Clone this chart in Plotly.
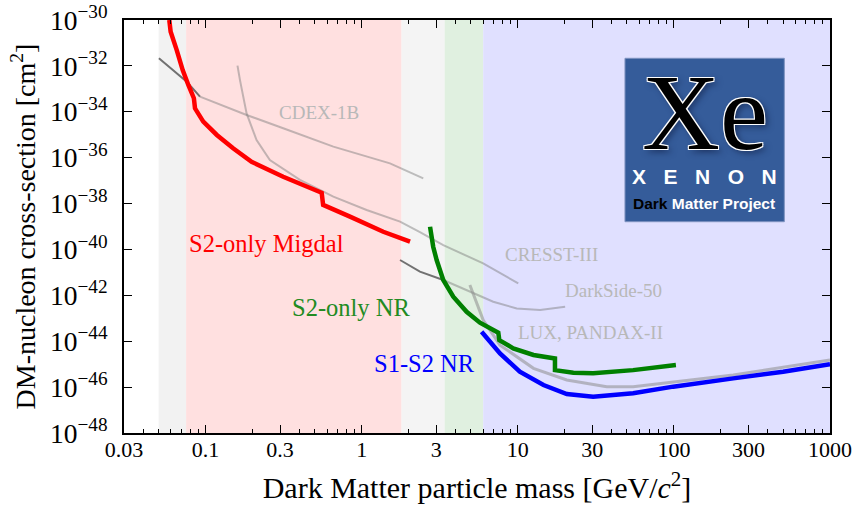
import plotly.graph_objects as go

# ---------------- data ----------------
region_edges = [0.05, 0.075, 1.8, 3.4, 6.0, 1000]
region_colors = ["#f2f2f2", "#ffe0e0", "#f4f4f4", "#e0f0e0", "#e0e0ff"]

migdal_x = [0.0585, 0.0597, 0.0653, 0.0713, 0.0775, 0.0826, 0.0841, 0.0855, 0.0966, 0.118,
            0.150, 0.197, 0.314, 0.554, 0.566, 0.841, 1.374, 2.04]
migdal_y = [1e-30, 10**-30.51, 10**-31.31, 10**-32.18, 10**-32.83, 10**-33.34, 10**-33.41,
            10**-33.85, 10**-34.43, 10**-35.01, 10**-35.59, 10**-36.18, 10**-36.83,
            10**-37.53, 10**-38.06, 10**-38.57, 10**-39.23, 10**-39.66]

s2nr_x = [2.74, 2.87, 3.02, 3.33, 3.86, 4.70, 5.72, 7.50, 7.61, 9.35, 12.6, 17.3, 17.3,
          22.7, 30.4, 54.8, 103]
s2nr_y = [10**-39.01, 10**-39.88, 10**-40.46, 10**-41.33, 10**-42.06, 10**-42.72, 10**-43.19,
          10**-43.63, 10**-43.95, 10**-44.31, 10**-44.60, 10**-44.75, 10**-45.26, 10**-45.37,
          10**-45.40, 10**-45.26, 10**-45.04]

s1s2_x = [5.86, 7.69, 10.3, 14.6, 20.6, 30.4, 54.8, 99, 240, 501, 1000]
s1s2_y = [10**-43.59, 10**-44.53, 10**-45.33, 10**-45.91, 10**-46.30, 10**-46.42, 10**-46.27,
          10**-45.98, 10**-45.62, 10**-45.33, 10**-45.0]

cdex_x = [0.0502, 0.0757, 0.092, 0.183, 0.314, 0.658, 1.517, 2.48]
cdex_y = [10**-31.67, 10**-32.69, 10**-33.34, 10**-34.14, 10**-34.72, 10**-35.52, 10**-36.25,
          10**-36.90]

cresst_x = [0.160, 0.166, 0.183, 0.212, 0.258, 0.402, 0.658, 1.075, 1.76, 2.36, 3.33, 6.0, 10.07]
cresst_y = [10**-31.99, 10**-32.62, 10**-34.07, 10**-35.23, 10**-36.10, 10**-36.97, 10**-37.70,
            10**-38.28, 10**-38.79, 10**-39.24, 10**-39.81, 10**-40.61, 10**-41.48]

ds50_x = [1.76, 2.36, 3.33, 4.70, 6.96, 9.84, 13.9, 20.1]
ds50_y = [10**-40.46, 10**-40.97, 10**-41.33, 10**-41.77, 10**-42.28, 10**-42.57, 10**-42.64,
          10**-42.50]

lux_x = [4.93, 6.0, 7.69, 12.6, 20.6, 37.1, 54.8, 240, 1000]
lux_y = [10**-41.55, 10**-43.08, 10**-44.17, 10**-45.18, 10**-45.69, 10**-45.98, 10**-45.98,
         10**-45.47, 10**-44.82]

x_tickvals = [0.03, 0.1, 0.3, 1, 3, 10, 30, 100, 300, 1000]
x_ticktext = ["0.03", "0.1", "0.3", "1", "3", "10", "30", "100", "300", "1000"]
x_minor = [m * 10**e for e in range(-2, 3) for m in range(2, 10)]
x_minor = [v for v in x_minor if 0.03 <= v <= 1000 and v not in x_tickvals]

Y_MIN, Y_MAX = 1e-48, 1e-30

SERIF = "Liberation Serif, Times New Roman, serif"
SANS = "Liberation Sans, Arial, sans-serif"

fig = go.Figure()

# shaded regions
for i, col in enumerate(region_colors):
    a, b = region_edges[i], region_edges[i + 1]
    fig.add_trace(go.Scatter(x=[a, a, b, b, a], y=[Y_MIN, Y_MAX, Y_MAX, Y_MIN, Y_MIN],
                             fill="toself", fillcolor=col, mode="lines",
                             line=dict(width=0), hoverinfo="skip", showlegend=False))

light = "rgba(120,120,120,0.45)"
dark = "rgba(70,70,70,0.75)"

def gray_line(xs, ys, color, w=2):
    fig.add_trace(go.Scatter(x=xs, y=ys, mode="lines", line=dict(color=color, width=w),
                             hoverinfo="skip", showlegend=False))

gray_line(cdex_x[2:], cdex_y[2:], light)
gray_line(cdex_x[:3], cdex_y[:3], dark)
gray_line(cresst_x, cresst_y, light)
gray_line(ds50_x[2:], ds50_y[2:], light)
gray_line(ds50_x[:3], ds50_y[:3], dark)
gray_line(lux_x, lux_y, "rgba(140,140,140,0.55)", 3)

fig.add_trace(go.Scatter(x=migdal_x, y=migdal_y, mode="lines",
                         line=dict(color="#ff0000", width=4.5), showlegend=False))
fig.add_trace(go.Scatter(x=s2nr_x, y=s2nr_y, mode="lines",
                         line=dict(color="#008000", width=4.5), showlegend=False))
fig.add_trace(go.Scatter(x=s1s2_x, y=s1s2_y, mode="lines",
                         line=dict(color="#0000ff", width=4.5), showlegend=False))

# labels (log10 positions)
def label(text, x, y, color, size):
    fig.add_annotation(text=text, x=x, y=y, xref="x", yref="y", showarrow=False,
                       xanchor="center", yanchor="middle",
                       font=dict(family=SERIF, size=size, color=color))

label("S2-only Migdal", -0.607, -39.76, "#ff0000", 24.5)
label("S2-only NR", -0.069, -42.51, "#228b22", 24.5)
label("S1-S2 NR", 0.399, -44.95, "#0000ff", 24.5)
label("CDEX-1B", -0.274, -34.05, "#b8b8b8", 19)
label("CRESST-III", 1.217, -40.20, "#b8b8b8", 19)
label("DarkSide-50", 1.610, -41.79, "#b8b8b8", 19)
label("LUX, PANDAX-II", 1.467, -43.64, "#b8b8b8", 19)

# XENON logo
fig.add_shape(type="rect", xref="paper", yref="paper", x0=0.7096, x1=0.9353, y0=0.5116, y1=0.9073,
              fillcolor="#355c9a", line=dict(color="#7f93c0", width=1), layer="above")
fig.add_annotation(text="Xe", xref="paper", yref="paper", x=0.823, y=0.775, showarrow=False,
                   xanchor="center", yanchor="middle",
                   font=dict(family=SERIF, size=108, color="black",
                             shadow="1px 1px 0 #fff, -1px -1px 0 #fff, 1px -1px 0 #fff, -1px 1px 0 #fff, 3px 3px 6px #1c3260"))
fig.add_annotation(text="X\u00a0\u00a0\u00a0E\u00a0\u00a0\u00a0N\u00a0\u00a0\u00a0O\u00a0\u00a0\u00a0N",
                   xref="paper", yref="paper", x=0.822, y=0.6206, showarrow=False,
                   xanchor="center", yanchor="middle",
                   font=dict(family=SANS, size=21, color="white", weight="bold"))
fig.add_annotation(text="<span style='color:black'>Dark</span> Matter Project",
                   xref="paper", yref="paper", x=0.821, y=0.556, showarrow=False,
                   xanchor="center", yanchor="middle",
                   font=dict(family=SANS, size=15.5, color="white", weight="bold"))

fig.update_xaxes(type="log", range=[-1.5229, 3], tickvals=x_tickvals, ticktext=x_ticktext,
                 ticks="inside", ticklen=8, tickwidth=1.2, tickcolor="black",
                 minor=dict(tickvals=x_minor, ticks="inside", ticklen=4, tickwidth=1, tickcolor="black"),
                 showline=True, linecolor="black", linewidth=2, mirror="ticks",
                 showgrid=False, zeroline=False, automargin=False, ticklabelstandoff=-4,
                 tickfont=dict(family=SERIF, size=22, color="black"),
                 title=dict(text="Dark Matter particle mass [GeV/<i>c</i><sup>2</sup>]",
                            font=dict(family=SERIF, size=30, color="black"), standoff=16))
fig.update_yaxes(type="log", range=[-48, -30], dtick=2, exponentformat="power",
                 ticks="inside", ticklen=8, tickwidth=1.2, tickcolor="black",
                 showline=True, linecolor="black", linewidth=2, mirror="ticks",
                 showgrid=False, zeroline=False, automargin=False, ticklabelstandoff=10,
                 tickfont=dict(family=SERIF, size=22, color="black"),
                 title=dict(text="DM-nucleon cross-section [cm<sup>2</sup>]",
                            font=dict(family=SERIF, size=28, color="black"), standoff=6))

fig.update_layout(width=857, height=514, margin=dict(l=124, r=27, t=20, b=81, autoexpand=False),
                  plot_bgcolor="white", paper_bgcolor="white", showlegend=False)

fig.write_html("out.html", config={"displayModeBar": False},
               post_script="document.body.style.margin='0';")
